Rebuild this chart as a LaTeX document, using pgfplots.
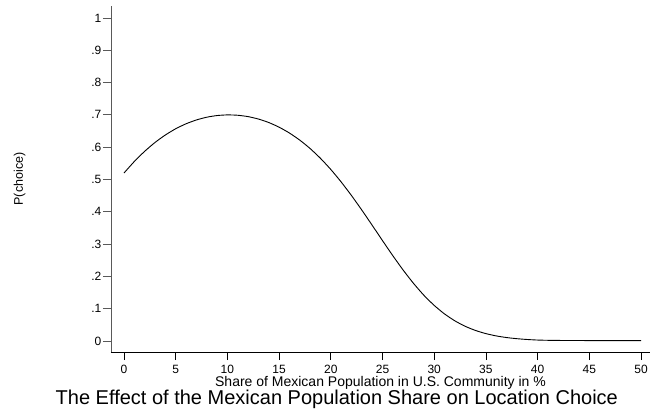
\documentclass[border=0pt]{standalone}
\usepackage{pgfplots}
\pgfplotsset{compat=1.18}
\usepackage{pgfplotstable}
\usepackage{fontspec}
\setmainfont{Liberation Sans}

% Predicted probability of choosing a location by Mexican population share
\pgfplotstableread{
x p
0 0.5200
1 0.5557
2 0.5872
3 0.6146
4 0.6377
5 0.6570
6 0.6724
7 0.6842
8 0.6927
9 0.6979
10 0.6999
11 0.6988
12 0.6946
13 0.6871
14 0.6763
15 0.6619
16 0.6438
17 0.6218
18 0.5958
19 0.5655
20 0.5310
21 0.4924
22 0.4503
23 0.4053
24 0.3584
25 0.3108
26 0.2640
27 0.2195
28 0.1784
29 0.1417
30 0.1102
31 0.0838
32 0.0624
33 0.0455
34 0.0326
35 0.0229
36 0.0158
37 0.0107
38 0.0072
39 0.0047
40 0.0030
41 0.0022
42 0.0018
43 0.0016
44 0.0015
45 0.0014
46 0.0014
47 0.0014
48 0.0014
49 0.0014
50 0.0014
}\choicedata

\begin{document}
\begin{tikzpicture}
\begin{axis}[
  scale only axis,
  width=539pt, height=346pt,
  xmin=-1.257, xmax=50.87,
  ymin=-0.034, ymax=1.037,
  axis x line*=bottom,
  axis y line*=left,
  x axis line style={black, line width=0.8pt},
  y axis line style={black!65, line width=0.8pt},
  xtick={0,5,...,50},
  ytick={0,0.1,...,1.0},
  yticklabels={0,.1,.2,.3,.4,.5,.6,.7,.8,.9,1},
  tick align=outside,
  major tick length=8pt,
  x tick style={black, line width=0.8pt},
  y tick style={black!65, line width=0.8pt},
  minor tick num=0,
  /pgf/number format/assume math mode=true,
  tick label style={font=\fontsize{12}{13}\selectfont},
  xticklabel style={inner sep=0pt, yshift=-5pt},
  yticklabel style={inner sep=1.5pt},
  xlabel={Share of Mexican Population in U.S. Community in \%},
  xlabel style={at={(axis description cs:0.5,0)}, anchor=base, inner sep=0pt,
    yshift=-34pt, font=\fontsize{14}{16}\selectfont},
  ylabel={P(choice)},
  ylabel style={at={(axis description cs:0,0.5)}, anchor=base,
    yshift=88pt, font=\fontsize{12.5}{14}\selectfont},
  title={The Effect of the Mexican Population Share on Location Choice},
  title style={at={(axis description cs:0.419,0)}, anchor=base, inner sep=0pt,
    yshift=-58pt, font=\fontsize{20}{22}\selectfont},
  clip=false,
]
\addplot[black, line width=0.9pt, smooth, tension=0.4] table[x=x, y=p] {\choicedata};
\end{axis}
\pgfresetboundingbox
\useasboundingbox (current axis.south west) ++(-111pt,-63pt) rectangle ++(650pt,415pt);
\end{tikzpicture}
\end{document}
